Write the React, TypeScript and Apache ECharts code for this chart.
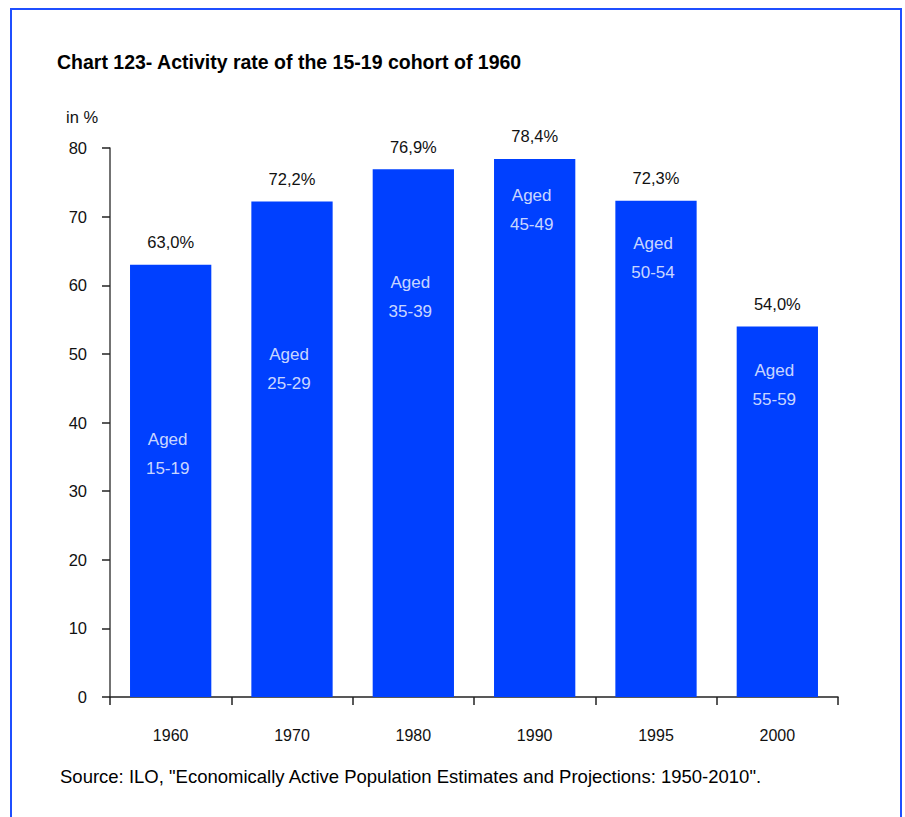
import React, { useEffect, useRef } from "react";
import * as echarts from "echarts";

const categories = ["1960", "1970", "1980", "1990", "1995", "2000"];
const activityRates = [63.0, 72.2, 76.9, 78.4, 72.3, 54.0];
const ageGroups = ["15-19", "25-29", "35-39", "45-49", "50-54", "55-59"];
// vertical anchor (in axis units) of the "Aged xx-xx" labels inside bars
const ageLabelLevels = [35.4, 47.8, 58.3, 71.0, 64.0, 45.5];
const yTicks = [0, 10, 20, 30, 40, 50, 60, 70, 80];

const FONT = "'Liberation Sans', Arial, sans-serif";

export default function App() {
  const ref = useRef<HTMLDivElement>(null);
  useEffect(() => {
    if (!ref.current) return;
    const chart = echarts.init(ref.current, null, { renderer: "svg" });
    chart.setOption({
      animation: false,
      backgroundColor: "#ffffff",
      textStyle: { fontFamily: FONT },
      grid: { left: 110, right: 67, top: 148, bottom: 120, containLabel: false },
      xAxis: {
        type: "category",
        data: categories,
        boundaryGap: true,
        axisLine: { show: true, lineStyle: { color: "#222", width: 1.5 } },
        axisTick: { show: true, alignWithLabel: false, length: 8, lineStyle: { color: "#222", width: 1.5 } },
        axisLabel: { color: "#111", fontSize: 16, fontFamily: FONT, margin: 30 },
        splitLine: { show: false },
      },
      yAxis: {
        type: "value",
        min: yTicks[0],
        max: yTicks[yTicks.length - 1],
        interval: 10,
        axisLine: { show: true, lineStyle: { color: "#444", width: 1.5 } },
        axisTick: { show: true, inside: false, length: 8, lineStyle: { color: "#222", width: 1.5 } },
        axisLabel: { color: "#111", fontSize: 16.5, fontFamily: FONT, margin: 23 },
        splitLine: { show: false },
      },
      series: [
        {
          type: "bar",
          data: activityRates,
          barWidth: "67%",
          itemStyle: { color: "#0040ff" },
          label: {
            show: true,
            position: "top",
            distance: 14,
            color: "#111",
            fontSize: 16.5,
            fontFamily: FONT,
            formatter: (p: any) => p.value.toFixed(1).replace(".", ",") + "%",
          },
          z: 2,
        },
        {
          type: "scatter",
          data: ageLabelLevels,
          symbolSize: 1,
          itemStyle: { color: "rgba(0,0,0,0)" },
          silent: true,
          label: {
            show: true,
            position: "inside",
            offset: [-3, 0],
            color: "#ffffff",
            fontSize: 17,
            lineHeight: 29,
            fontFamily: FONT,
            formatter: (p: any) => "Aged\n" + ageGroups[p.dataIndex],
          },
          z: 5,
        },
      ],
      graphic: [
        {
          type: "rect",
          shape: { x: 11, y: 9, width: 890, height: 830 },
          style: { fill: "none", stroke: "#1f4fff", lineWidth: 2 },
          silent: true,
        },
        {
          type: "text",
          left: 57,
          top: 52,
          style: {
            text: "Chart 123- Activity rate of the 15-19 cohort of 1960",
            font: "bold 19.5px " + FONT,
            fill: "#000",
          },
        },
        {
          type: "text",
          left: 66,
          top: 108,
          style: { text: "in %", font: "16.5px " + FONT, fill: "#111" },
        },
        {
          type: "text",
          left: 60,
          top: 767,
          style: {
            text: 'Source: ILO, "Economically Active Population Estimates and Projections: 1950-2010".',
            font: "18.5px " + FONT,
            fill: "#000",
          },
        },
      ],
    });
    return () => chart.dispose();
  }, []);
  return (
    <div
      ref={ref}
      style={{ position: "absolute", left: 0, top: 0, width: 905, height: 817 }}
    />
  );
}
